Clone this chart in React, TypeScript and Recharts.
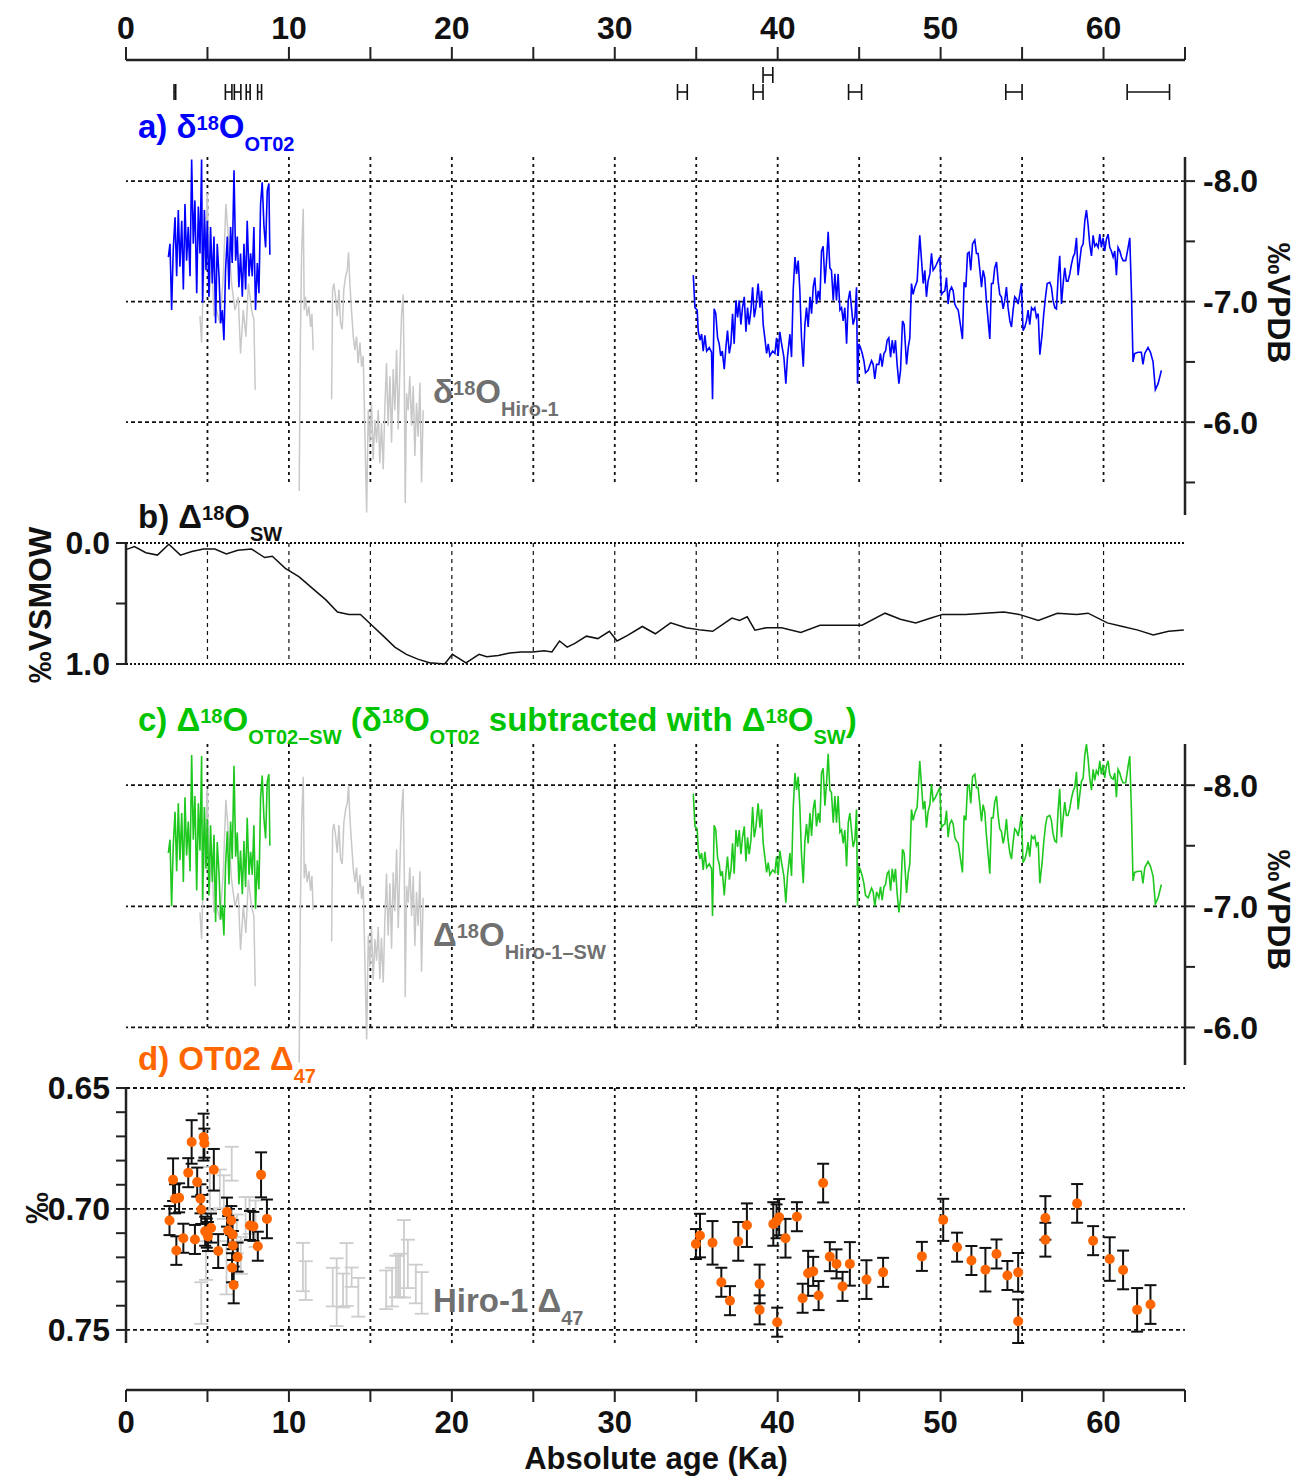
import React from 'react';
import { ComposedChart, Line, Scatter, XAxis, YAxis, ReferenceLine, ErrorBar } from 'recharts';

const FONT = '"Liberation Sans", Arial, Helvetica, sans-serif';
const BLUE = '#0000ff';
const GREEN = '#1fc81f';
const GREEN_TXT = '#00c400';
const ORANGE = '#ff6600';
const GRAY_LINE = '#c8c8c8';
const GRAY_TXT = '#707070';
const INK = '#111111';

// ---------- shared x axis ----------
const ageTicks = [0, 5, 10, 15, 20, 25, 30, 35, 40, 45, 50, 55, 60, 65];
const gridAges = [5, 10, 15, 20, 25, 30, 35, 40, 45, 50, 55, 60];

// ---------- dating uncertainties (top) ----------
const datingAge = [3.0, 6.3, 6.85, 7.5, 8.2, 34.15, 38.8, 39.4, 44.75, 54.5, 62.75];
const datingErr = [0.05, 0.2, 0.2, 0.12, 0.12, 0.3, 0.3, 0.3, 0.4, 0.5, 1.3];
const datingRow = [2, 2, 2, 2, 2, 2, 2, 1, 2, 2, 2];

// ---------- panel a / c : OT02 early ----------
const ot02EarlyAge = [2.60, 2.70, 2.80, 2.90, 3.01, 3.11, 3.21, 3.31, 3.42, 3.52, 3.62, 3.72, 3.82, 3.93, 4.03, 4.13, 4.23, 4.34, 4.44, 4.54, 4.64, 4.70, 4.81, 4.91, 4.99, 5.09, 5.19, 5.30, 5.40, 5.50, 5.60, 5.71, 5.81, 5.91, 6.01, 6.11, 6.22, 6.32, 6.42, 6.52, 6.63, 6.73, 6.83, 6.93, 7.03, 7.14, 7.24, 7.34, 7.44, 7.55, 7.65, 7.75, 7.85, 7.95, 8.06, 8.16, 8.26, 8.36, 8.47, 8.57, 8.67, 8.77, 8.83];
const ot02EarlyD18O = [-7.37, -7.48, -6.93, -7.43, -7.70, -7.21, -7.76, -7.29, -7.67, -7.10, -7.81, -7.34, -7.62, -7.21, -8.18, -7.48, -7.84, -7.07, -7.79, -7.40, -8.18, -6.99, -7.76, -7.26, -7.67, -7.04, -7.62, -7.15, -7.54, -6.82, -7.48, -7.21, -6.82, -6.93, -6.68, -7.26, -7.54, -7.10, -7.62, -7.32, -8.09, -7.34, -7.54, -7.12, -7.40, -7.04, -7.48, -7.10, -7.67, -7.21, -7.40, -7.21, -7.62, -6.93, -7.32, -7.07, -7.81, -7.99, -7.62, -7.45, -7.92, -7.98, -7.39];
const ot02EarlySW = [-7.44, -7.55, -7.00, -7.50, -7.78, -7.29, -7.85, -7.38, -7.77, -7.20, -7.90, -7.42, -7.70, -7.29, -8.25, -7.55, -7.91, -7.13, -7.85, -7.46, -8.24, -7.05, -7.82, -7.31, -7.72, -7.09, -7.67, -7.20, -7.59, -6.87, -7.53, -7.27, -6.89, -7.01, -6.76, -7.34, -7.62, -7.18, -7.70, -7.39, -8.16, -7.41, -7.61, -7.18, -7.46, -7.10, -7.54, -7.16, -7.73, -7.26, -7.45, -7.26, -7.67, -6.98, -7.38, -7.14, -7.89, -8.08, -7.72, -7.56, -8.03, -8.09, -7.50];

// ---------- panel a / c : OT02 late ----------
const ot02LateAge = [34.82, 34.92, 35.06, 35.12, 35.23, 35.33, 35.43, 35.53, 35.64, 35.8, 35.94, 36.0, 36.1, 36.2, 36.31, 36.41, 36.5, 36.6, 36.72, 36.82, 36.92, 37.03, 37.13, 37.23, 37.33, 37.44, 37.54, 37.64, 37.74, 37.84, 37.95, 38.05, 38.15, 38.25, 38.36, 38.46, 38.56, 38.66, 38.8, 38.91, 39.01, 39.11, 39.21, 39.32, 39.42, 39.52, 39.69, 39.83, 39.93, 40.03, 40.13, 40.24, 40.38, 40.5, 40.6, 40.75, 40.85, 40.95, 41.06, 41.16, 41.26, 41.36, 41.46, 41.57, 41.67, 41.77, 41.87, 41.98, 42.08, 42.18, 42.28, 42.38, 42.49, 42.59, 42.69, 42.79, 42.9, 43.0, 43.1, 43.2, 43.3, 43.41, 43.51, 43.61, 43.71, 43.82, 43.92, 44.02, 44.12, 44.23, 44.33, 44.43, 44.53, 44.63, 44.74, 44.84, 44.9, 44.98, 45.08, 45.19, 45.29, 45.39, 45.55, 45.76, 45.86, 45.96, 46.07, 46.21, 46.31, 46.41, 46.52, 46.62, 46.72, 46.82, 46.93, 47.03, 47.13, 47.23, 47.33, 47.44, 47.54, 47.66, 47.76, 47.91, 48.01, 48.11, 48.21, 48.31, 48.42, 48.56, 48.72, 48.83, 48.93, 49.03, 49.13, 49.23, 49.34, 49.44, 49.54, 49.64, 49.75, 49.85, 49.95, 50.05, 50.16, 50.26, 50.36, 50.46, 50.56, 50.67, 50.77, 50.87, 50.97, 51.08, 51.18, 51.34, 51.44, 51.55, 51.65, 51.75, 51.85, 51.96, 52.1, 52.2, 52.3, 52.41, 52.51, 52.61, 52.71, 52.81, 52.92, 53.02, 53.12, 53.22, 53.32, 53.43, 53.53, 53.63, 53.73, 53.84, 53.94, 54.04, 54.14, 54.25, 54.35, 54.45, 54.55, 54.66, 54.76, 54.86, 54.96, 55.06, 55.17, 55.27, 55.37, 55.47, 55.58, 55.68, 55.78, 55.88, 55.99, 56.09, 56.23, 56.33, 56.44, 56.54, 56.7, 56.8, 56.9, 57.01, 57.11, 57.21, 57.31, 57.42, 57.52, 57.62, 57.72, 57.82, 57.93, 58.03, 58.13, 58.23, 58.34, 58.44, 58.54, 58.64, 58.75, 58.85, 58.95, 59.05, 59.15, 59.26, 59.36, 59.46, 59.56, 59.67, 59.77, 59.87, 59.97, 60.07, 60.18, 60.28, 60.38, 60.48, 60.59, 60.69, 60.79, 60.89, 61.0, 61.1, 61.2, 61.36, 61.51, 61.61, 61.71, 61.81, 61.91, 62.12, 62.32, 62.42, 62.53, 62.73, 62.88, 63.04, 63.18, 63.35, 63.55];
const ot02LateD18O = [-7.22, -6.95, -6.93, -6.76, -6.68, -6.73, -6.59, -6.72, -6.59, -6.62, -6.58, -6.19, -6.94, -6.9, -6.70, -6.65, -6.55, -6.59, -6.44, -6.62, -6.76, -6.57, -6.65, -6.9, -6.65, -7.01, -6.87, -7.01, -6.81, -6.95, -7.04, -6.75, -6.95, -6.81, -6.93, -7.12, -6.87, -6.95, -7.15, -6.95, -7.09, -6.81, -6.70, -6.57, -6.65, -6.55, -6.59, -6.57, -6.70, -6.55, -6.75, -6.65, -6.54, -6.32, -6.54, -6.73, -6.54, -7.09, -7.37, -7.23, -7.34, -7.09, -6.70, -6.46, -6.81, -6.95, -6.79, -7.04, -6.9, -7.12, -7.2, -6.98, -7.09, -7.01, -7.42, -7.46, -7.15, -7.34, -7.58, -7.28, -7.26, -7.01, -7.23, -7.01, -7.23, -6.93, -6.95, -6.84, -6.95, -6.65, -7.01, -7.09, -6.95, -6.81, -6.87, -7.12, -6.32, -6.65, -6.62, -6.57, -6.51, -6.41, -6.43, -6.51, -6.48, -6.36, -6.48, -6.48, -6.57, -6.46, -6.57, -6.59, -6.68, -6.70, -6.54, -6.68, -6.57, -6.68, -6.48, -6.32, -6.43, -6.84, -6.81, -6.48, -6.62, -6.70, -7.15, -7.06, -7.12, -7.17, -7.55, -7.34, -7.15, -7.26, -7.04, -7.17, -7.23, -7.40, -7.26, -7.28, -7.31, -7.34, -7.37, -7.06, -7.08, -7.09, -7.2, -6.98, -7.09, -7.12, -7.09, -6.98, -6.95, -6.93, -6.84, -6.69, -7.16, -7.12, -7.40, -7.41, -7.26, -7.48, -7.51, -7.40, -7.40, -7.26, -7.12, -7.26, -7.2, -7.01, -6.84, -6.69, -7.15, -7.15, -7.28, -7.33, -7.17, -7.06, -7.04, -6.94, -7.01, -7.12, -6.95, -6.84, -6.79, -6.93, -7.04, -7.02, -6.98, -7.06, -7.15, -6.76, -6.79, -6.84, -6.93, -6.81, -6.95, -6.93, -6.95, -6.87, -6.90, -6.56, -6.73, -6.90, -7.04, -7.15, -7.16, -7.12, -7.01, -6.95, -6.94, -7.2, -7.38, -6.98, -7.15, -7.28, -7.17, -7.17, -7.23, -7.31, -7.37, -7.40, -7.53, -7.22, -7.34, -7.45, -7.48, -7.67, -7.76, -7.64, -7.48, -7.38, -7.55, -7.46, -7.48, -7.45, -7.56, -7.45, -7.53, -7.42, -7.52, -7.56, -7.45, -7.42, -7.37, -7.42, -7.22, -7.45, -7.42, -7.37, -7.34, -7.34, -7.45, -7.53, -7.09, -6.50, -6.57, -6.58, -6.58, -6.48, -6.57, -6.62, -6.58, -6.50, -6.27, -6.32, -6.43];
const ot02LateSW = [-7.93, -7.66, -7.64, -7.47, -7.39, -7.44, -7.30, -7.45, -7.32, -7.35, -7.31, -6.92, -7.67, -7.63, -7.40, -7.35, -7.25, -7.29, -7.09, -7.27, -7.41, -7.22, -7.30, -7.52, -7.27, -7.63, -7.49, -7.63, -7.43, -7.57, -7.66, -7.37, -7.57, -7.43, -7.55, -7.82, -7.57, -7.65, -7.85, -7.65, -7.80, -7.52, -7.41, -7.28, -7.36, -7.26, -7.30, -7.28, -7.41, -7.26, -7.46, -7.36, -7.25, -7.03, -7.25, -7.44, -7.25, -7.80, -8.10, -7.96, -8.07, -7.82, -7.43, -7.19, -7.54, -7.68, -7.52, -7.77, -7.58, -7.80, -7.88, -7.66, -7.77, -7.69, -8.10, -8.14, -7.83, -8.02, -8.26, -7.96, -7.94, -7.69, -7.91, -7.69, -7.91, -7.61, -7.63, -7.52, -7.63, -7.33, -7.69, -7.77, -7.63, -7.49, -7.55, -7.80, -7.00, -7.33, -7.30, -7.25, -7.19, -7.09, -7.07, -7.15, -7.12, -7.00, -7.12, -7.07, -7.16, -7.05, -7.16, -7.18, -7.27, -7.29, -7.13, -7.31, -7.20, -7.31, -7.11, -6.95, -7.06, -7.47, -7.44, -7.11, -7.27, -7.35, -7.80, -7.71, -7.77, -7.82, -8.20, -7.99, -7.80, -7.87, -7.65, -7.78, -7.84, -8.01, -7.87, -7.89, -7.92, -7.95, -7.98, -7.65, -7.67, -7.68, -7.79, -7.57, -7.68, -7.71, -7.68, -7.57, -7.54, -7.52, -7.43, -7.28, -7.75, -7.71, -7.99, -8.00, -7.85, -8.07, -8.09, -7.98, -7.98, -7.84, -7.70, -7.84, -7.78, -7.59, -7.42, -7.27, -7.73, -7.73, -7.86, -7.91, -7.75, -7.64, -7.62, -7.52, -7.59, -7.72, -7.55, -7.44, -7.39, -7.53, -7.64, -7.62, -7.58, -7.66, -7.75, -7.36, -7.39, -7.44, -7.53, -7.41, -7.58, -7.56, -7.58, -7.50, -7.53, -7.19, -7.36, -7.53, -7.67, -7.74, -7.75, -7.71, -7.60, -7.54, -7.53, -7.79, -7.97, -7.57, -7.73, -7.86, -7.75, -7.75, -7.81, -7.89, -7.95, -7.98, -8.11, -7.80, -7.92, -8.03, -8.06, -8.25, -8.34, -8.22, -8.06, -7.96, -8.13, -8.04, -8.12, -8.09, -8.20, -8.09, -8.17, -8.06, -8.16, -8.20, -8.09, -8.06, -8.05, -8.10, -7.90, -8.13, -8.10, -8.05, -8.02, -8.02, -8.16, -8.24, -7.80, -7.21, -7.28, -7.29, -7.29, -7.19, -7.32, -7.37, -7.33, -7.25, -7.02, -7.07, -7.18];

// ---------- Hiro-1 (gray) segments ----------
const hiro1Age = [4.54, 4.64, 4.74, 4.85, 4.99, 5.11, 5.26, 5.40, 5.56, 5.77, 5.97, 6.13, 6.28, 6.48, 6.69, 6.89, 7.03, 7.20, 7.36, 7.51, 7.71, 7.85, 7.93];
const hiro1D18O = [-6.88, -6.66, -7.15, -7.40, -7.90, -7.04, -7.34, -6.88, -6.93, -6.82, -7.21, -7.81, -7.54, -7.15, -6.93, -7.04, -6.57, -6.93, -6.71, -7.15, -6.93, -6.85, -6.27];
const hiro1SW = [-6.95, -6.73, -7.22, -7.47, -7.97, -7.11, -7.41, -6.95, -7.00, -6.89, -7.28, -7.88, -7.61, -7.22, -7.00, -7.11, -6.64, -7.00, -6.78, -7.22, -7.00, -6.92, -6.34];
const hiro2Age = [10.63, 10.70, 10.78, 10.88, 10.94, 11.02, 11.12, 11.23, 11.33, 11.41, 11.49];
const hiro2D18O = [-5.43, -6.66, -7.40, -7.77, -6.93, -7.04, -6.88, -6.96, -6.79, -6.90, -6.60];
const hiro2SW = [-5.71, -6.94, -7.69, -8.07, -7.23, -7.35, -7.20, -7.29, -7.13, -7.25, -6.97];
const hiro3Age = [12.62, 12.68, 12.76, 12.86, 12.97, 13.07, 13.17, 13.27, 13.37, 13.48, 13.58, 13.66, 13.74, 13.84, 13.95, 14.05, 14.15, 14.25, 14.36, 14.46, 14.56, 14.77, 14.87, 14.97, 15.07, 15.17, 15.28, 15.38, 15.48, 15.58, 15.68, 15.79, 15.89, 15.99, 16.09, 16.20, 16.30, 16.40, 16.50, 16.61, 16.71, 16.81, 16.91, 17.01, 17.08, 17.14, 17.22, 17.32, 17.42, 17.53, 17.63, 17.73, 17.83, 17.93, 18.04, 18.14, 18.24];
const hiro3D18O = [-6.19, -7.10, -7.15, -7.04, -6.88, -7.10, -6.82, -6.77, -7.10, -7.21, -7.26, -7.41, -7.15, -6.93, -6.71, -6.60, -6.71, -6.49, -6.66, -6.46, -6.55, -5.25, -6.10, -5.83, -6.16, -5.69, -6.02, -5.83, -6.10, -5.66, -5.99, -5.61, -6.13, -6.49, -5.97, -6.38, -5.83, -6.44, -6.10, -6.60, -5.94, -6.44, -6.88, -7.06, -6.38, -5.33, -6.24, -6.10, -6.38, -5.97, -6.30, -5.72, -6.16, -5.88, -6.33, -5.50, -6.10];
const hiro3SW = [-6.71, -7.62, -7.68, -7.59, -7.44, -7.67, -7.39, -7.35, -7.69, -7.80, -7.85, -8.00, -7.74, -7.53, -7.31, -7.20, -7.32, -7.10, -7.26, -7.06, -7.17, -5.90, -6.76, -6.50, -6.84, -6.39, -6.73, -6.55, -6.83, -6.40, -6.74, -6.37, -6.90, -7.27, -6.76, -7.19, -6.65, -7.28, -6.96, -7.47, -6.82, -7.33, -7.78, -7.97, -7.30, -6.25, -7.17, -7.03, -7.32, -6.92, -7.25, -6.67, -7.12, -6.84, -7.29, -6.46, -7.07];

// ---------- panel b : seawater ----------
const swAge = [0, 0.52, 1.22, 1.93, 2.63, 3.34, 4.04, 4.75, 5.45, 6.16, 6.86, 7.71, 8.51, 8.98, 9.78, 10.63, 11.57, 12.27, 12.98, 13.68, 14.39, 15.09, 15.80, 16.50, 17.21, 17.91, 18.62, 19.56, 20.03, 20.87, 21.67, 22.14, 22.85, 23.55, 24.26, 24.96, 25.67, 26.14, 26.61, 27.08, 27.55, 28.26, 28.96, 29.67, 30.14, 30.84, 31.69, 32.49, 33.43, 34.37, 35.31, 36.01, 37.19, 37.66, 38.13, 38.60, 39.30, 40.24, 41.42, 42.60, 44.01, 45.18, 46.59, 47.53, 48.47, 49.41, 50.12, 51.53, 52.70, 53.88, 54.82, 56.00, 57.17, 58.35, 59.05, 60.23, 61.17, 62.11, 63.05, 63.99, 64.93];
const swValue = [0.055, 0.03, 0.08, 0.10, 0.01, 0.10, 0.07, 0.05, 0.05, 0.09, 0.06, 0.05, 0.12, 0.11, 0.21, 0.28, 0.39, 0.47, 0.57, 0.59, 0.59, 0.68, 0.77, 0.86, 0.92, 0.96, 0.99, 1.0, 0.92, 0.99, 0.92, 0.94, 0.93, 0.91, 0.90, 0.90, 0.89, 0.90, 0.81, 0.86, 0.83, 0.77, 0.79, 0.73, 0.81, 0.76, 0.69, 0.75, 0.66, 0.70, 0.72, 0.73, 0.62, 0.64, 0.61, 0.72, 0.70, 0.70, 0.74, 0.68, 0.68, 0.68, 0.58, 0.63, 0.66, 0.62, 0.59, 0.59, 0.58, 0.57, 0.59, 0.64, 0.58, 0.59, 0.58, 0.66, 0.69, 0.72, 0.76, 0.73, 0.72];

// ---------- panel d : clumped isotopes ----------
const ot02D47Age = [2.67, 2.89, 3.01, 3.09, 3.26, 3.52, 3.82, 4.03, 4.23, 4.37, 4.57, 4.62, 4.76, 4.81, 4.86, 4.96, 5.03, 5.22, 5.39, 5.66, 6.20, 6.27, 6.46, 6.54, 6.56, 6.51, 6.61, 6.85, 7.61, 7.82, 8.09, 8.29, 8.65, 34.98, 35.23, 36.0, 36.54, 37.07, 37.58, 38.11, 38.89, 38.89, 39.73, 39.93, 39.97, 40.09, 40.48, 41.18, 41.53, 41.87, 42.18, 42.51, 42.79, 43.2, 43.61, 43.98, 44.43, 45.45, 46.47, 48.85, 50.16, 51.01, 51.89, 52.75, 53.43, 54.1, 54.76, 54.76, 56.43, 56.43, 58.38, 59.36, 60.38, 61.2, 62.06, 62.88];
const ot02D47 = [0.7048, 0.6879, 0.6958, 0.7172, 0.6954, 0.7121, 0.6850, 0.6723, 0.7126, 0.6889, 0.6958, 0.7002, 0.6703, 0.6728, 0.7092, 0.7100, 0.7114, 0.7079, 0.6838, 0.7174, 0.7013, 0.7089, 0.7048, 0.7106, 0.7151, 0.7243, 0.7314, 0.7199, 0.7068, 0.7072, 0.7154, 0.6859, 0.7041, 0.7145, 0.7110, 0.7140, 0.7303, 0.7379, 0.7134, 0.7067, 0.7310, 0.7417, 0.7062, 0.7051, 0.7468, 0.7034, 0.7121, 0.7032, 0.7369, 0.7266, 0.7258, 0.7358, 0.6893, 0.7197, 0.7227, 0.7320, 0.7227, 0.7292, 0.7262, 0.7196, 0.7045, 0.7158, 0.7213, 0.7251, 0.7186, 0.7275, 0.7262, 0.7464, 0.7037, 0.7127, 0.6977, 0.7131, 0.7207, 0.7252, 0.7417, 0.7395];
const ot02D47Err = [0.006, 0.0088, 0.006, 0.0059, 0.006, 0.006, 0.006, 0.009, 0.006, 0.006, 0.006, 0.006, 0.0097, 0.006, 0.006, 0.006, 0.006, 0.006, 0.0086, 0.007, 0.006, 0.006, 0.006, 0.006, 0.006, 0.006, 0.0076, 0.006, 0.006, 0.006, 0.006, 0.0093, 0.008, 0.0062, 0.009, 0.009, 0.006, 0.006, 0.008, 0.009, 0.008, 0.006, 0.009, 0.007, 0.006, 0.0075, 0.008, 0.006, 0.006, 0.0093, 0.006, 0.006, 0.008, 0.006, 0.006, 0.006, 0.009, 0.008, 0.006, 0.006, 0.0087, 0.006, 0.006, 0.009, 0.006, 0.006, 0.008, 0.009, 0.009, 0.007, 0.008, 0.006, 0.009, 0.008, 0.009, 0.008];
const hiroD47Age = [4.62, 4.91, 5.15, 5.76, 6.00, 6.17, 6.49, 6.80, 7.05, 7.34, 7.58, 7.95, 10.86, 11.03, 12.69, 12.93, 13.32, 13.54, 13.85, 14.26, 15.97, 16.33, 16.57, 16.70, 16.82, 17.06, 17.30, 17.79, 18.15];
const hiroD47 = [0.7389, 0.7213, 0.6917, 0.6917, 0.6951, 0.7243, 0.6813, 0.7103, 0.7192, 0.7041, 0.7027, 0.7061, 0.724, 0.7296, 0.7323, 0.7344, 0.7337, 0.7271, 0.7282, 0.7365, 0.7334, 0.7323, 0.7279, 0.7279, 0.7275, 0.7206, 0.7227, 0.731, 0.7347];
const hiroD47Err = [0.0086, 0.008, 0.009, 0.008, 0.009, 0.011, 0.007, 0.008, 0.0076, 0.009, 0.0076, 0.0096, 0.010, 0.008, 0.008, 0.014, 0.007, 0.013, 0.004, 0.008, 0.008, 0.008, 0.0086, 0.0086, 0.009, 0.016, 0.010, 0.008, 0.0086];

// ---------- axis ticks ----------
const vpdbTicksA = [-8, -7.5, -7, -6.5, -6, -5.5];
const vpdbTicksC = [-8, -7.5, -7, -6.5, -6];
const vpdbGrid = [-8, -7, -6];
const swTicks = [0, 0.5, 1];
const swGrid = [0, 1];
const d47Ticks = [0.65, 0.66, 0.67, 0.68, 0.69, 0.70, 0.71, 0.72, 0.73, 0.74, 0.75];
const d47Labeled = [0.65, 0.70, 0.75];

// ---------- helpers ----------
type Pt = { x: number; y: number };
const zip = (xs: number[], ys: number[]): Pt[] => xs.map((x, i) => ({ x, y: ys[i] }));

const W = 1302;
const PL = 126;
const PR = 1185;
const tickStyle = { fill: INK, fontSize: 32, fontWeight: 700, fontFamily: FONT };
const axisLineStyle = { stroke: '#222', strokeWidth: 2.5 };
const tickLineStyle = { stroke: '#222', strokeWidth: 2 };

const fmtVpdb = (v: number) => (Number.isInteger(v) ? v.toFixed(1) : '');
const fmtSw = (v: number) => (Math.abs(v - 0.5) < 1e-6 ? '' : v.toFixed(1));
const fmtD47 = (v: number) => (d47Labeled.some((l) => Math.abs(l - v) < 1e-6) ? v.toFixed(2) : '');
const fmtAge = (v: number) => (v % 10 === 0 && v <= 60 ? String(v) : '');

const hGridLines = (vals: number[], dash: string, width: number) =>
  vals.map((v) => (
    <ReferenceLine key={'h' + v} y={v} stroke={INK} strokeWidth={width} strokeDasharray={dash} ifOverflow="visible" />
  ));
const vGridLines = (from: number, to: number, dash: string, width: number) =>
  gridAges.map((a) => (
    <ReferenceLine
      key={'v' + a}
      segment={[{ x: a, y: from }, { x: a, y: to }]}
      stroke={INK}
      strokeWidth={width}
      strokeDasharray={dash}
      ifOverflow="visible"
    />
  ));

const line = (key: string, data: Pt[], color: string, width = 1.6) => (
  <Line
    key={key}
    data={data}
    dataKey="y"
    type="linear"
    stroke={color}
    strokeWidth={width}
    dot={false}
    activeDot={false}
    isAnimationActive={false}
  />
);

const PAD = 20;

function panelBox(top: number, bottom: number) {
  return { position: 'absolute' as const, left: 0, top: top - PAD, width: W, height: bottom - top + 2 * PAD };
}

const EmptyShape = () => <g />;
const OrangeDot = (p: any) => <circle cx={p.cx} cy={p.cy} r={5} fill={ORANGE} />;

const TS = 33; // title font size
const SS = 20; // sub/superscript size

export default function App() {
  const aTop = 157, aBot = 515;
  const bTop = 543, bBot = 664;
  const cTop = 744, cBot = 1065;
  const dTop = 1088, dBot = 1343;

  const datingData = datingAge.map((a, i) => ({ x: a, y: datingRow[i] === 1 ? 15 : 32, ex: datingErr[i] }));
  const ot02Pts = ot02D47Age.map((a, i) => ({ x: a, y: ot02D47[i], err: ot02D47Err[i] }));
  const hiroPts = hiroD47Age.map((a, i) => ({ x: a, y: hiroD47[i], err: hiroD47Err[i] }));

  return (
    <div style={{ position: 'absolute', left: 0, top: 0, width: W, height: 1476, background: '#fff', fontFamily: FONT }}>
      {/* top axis + dating error bars */}
      <div style={{ position: 'absolute', left: 0, top: 0, width: W, height: 100 }}>
        <ComposedChart width={W} height={100} margin={{ top: 0, bottom: 0, left: PL, right: W - PR }}>
          <XAxis
            type="number"
            dataKey="x"
            domain={[0, 65]}
            orientation="top"
            height={60}
            ticks={ageTicks}
            interval={0}
            tickFormatter={fmtAge}
            tick={tickStyle}
            tickSize={13}
            tickMargin={8}
            axisLine={axisLineStyle}
            tickLine={tickLineStyle}
          />
          <YAxis type="number" dataKey="y" domain={[0, 40]} reversed hide />
          <Scatter data={datingData} shape={EmptyShape} isAnimationActive={false}>
            <ErrorBar dataKey="ex" direction="x" width={8} stroke={INK} strokeWidth={1.6} />
          </Scatter>
        </ComposedChart>
      </div>

      {/* panel a */}
      <div style={panelBox(aTop, aBot)}>
        <ComposedChart width={W} height={aBot - aTop + 2 * PAD} margin={{ top: PAD, bottom: PAD, left: PL, right: 0 }}>
          <XAxis type="number" dataKey="x" domain={[0, 65]} hide />
          <YAxis
            type="number"
            dataKey="y"
            orientation="right"
            width={W - PR}
            domain={[-8.2, -5.23]}
            reversed
            ticks={vpdbTicksA}
            interval={0}
            tickFormatter={fmtVpdb}
            tick={tickStyle}
            tickSize={10}
            tickMargin={8}
            axisLine={axisLineStyle}
            tickLine={tickLineStyle}
          />
          {hGridLines(vpdbGrid, '4 3', 1.8)}
          {vGridLines(-8.2, -5.5, '3 4', 1.8)}
          {line('h1', zip(hiro1Age, hiro1D18O), GRAY_LINE, 1.5)}
          {line('h2', zip(hiro2Age, hiro2D18O), GRAY_LINE, 1.5)}
          {line('h3', zip(hiro3Age, hiro3D18O), GRAY_LINE, 1.5)}
          {line('b1', zip(ot02EarlyAge, ot02EarlyD18O), BLUE)}
          {line('b2', zip(ot02LateAge, ot02LateD18O), BLUE)}
        </ComposedChart>
      </div>

      {/* panel b */}
      <div style={panelBox(bTop, bBot)}>
        <ComposedChart width={W} height={bBot - bTop + 2 * PAD} margin={{ top: PAD, bottom: PAD, left: 0, right: W - PR }}>
          <XAxis type="number" dataKey="x" domain={[0, 65]} hide />
          <YAxis
            type="number"
            dataKey="y"
            orientation="left"
            width={PL}
            domain={[0, 1]}
            reversed
            ticks={swTicks}
            interval={0}
            tickFormatter={fmtSw}
            tick={tickStyle}
            tickSize={10}
            tickMargin={6}
            axisLine={axisLineStyle}
            tickLine={tickLineStyle}
          />
          {hGridLines(swGrid, '2 2', 2)}
          {vGridLines(0, 1, '4 4', 1.2)}
          {line('sw', zip(swAge, swValue), INK, 1.5)}
        </ComposedChart>
      </div>

      {/* panel c */}
      <div style={panelBox(cTop, cBot)}>
        <ComposedChart width={W} height={cBot - cTop + 2 * PAD} margin={{ top: PAD, bottom: PAD, left: PL, right: 0 }}>
          <XAxis type="number" dataKey="x" domain={[0, 65]} hide />
          <YAxis
            type="number"
            dataKey="y"
            orientation="right"
            width={W - PR}
            domain={[-8.34, -5.69]}
            reversed
            ticks={vpdbTicksC}
            interval={0}
            tickFormatter={fmtVpdb}
            tick={tickStyle}
            tickSize={10}
            tickMargin={8}
            axisLine={axisLineStyle}
            tickLine={tickLineStyle}
          />
          {hGridLines(vpdbGrid, '4 3', 1.8)}
          {vGridLines(-8.34, -6.0, '3 4', 1.8)}
          {line('h1', zip(hiro1Age, hiro1SW), GRAY_LINE, 1.5)}
          {line('h2', zip(hiro2Age, hiro2SW), GRAY_LINE, 1.5)}
          {line('h3', zip(hiro3Age, hiro3SW), GRAY_LINE, 1.5)}
          {line('g1', zip(ot02EarlyAge, ot02EarlySW), GREEN)}
          {line('g2', zip(ot02LateAge, ot02LateSW), GREEN)}
        </ComposedChart>
      </div>

      {/* panel d */}
      <div style={panelBox(dTop, dBot)}>
        <ComposedChart width={W} height={dBot - dTop + 2 * PAD} margin={{ top: PAD, bottom: PAD, left: 0, right: W - PR }}>
          <XAxis type="number" dataKey="x" domain={[0, 65]} hide />
          <YAxis
            type="number"
            dataKey="y"
            orientation="left"
            width={PL}
            domain={[0.65, 0.7554]}
            reversed
            ticks={d47Ticks}
            interval={0}
            tickFormatter={fmtD47}
            tick={tickStyle}
            tickSize={10}
            tickMargin={6}
            axisLine={axisLineStyle}
            tickLine={tickLineStyle}
          />
          {hGridLines(d47Labeled, '4 3', 1.8)}
          {vGridLines(0.65, 0.7554, '3 4', 1.8)}
          <Scatter data={hiroPts} shape={EmptyShape} isAnimationActive={false}>
            <ErrorBar dataKey="err" direction="y" width={7} stroke="#cdcdcd" strokeWidth={1.8} />
          </Scatter>
          <Scatter data={ot02Pts} shape={OrangeDot} isAnimationActive={false}>
            <ErrorBar dataKey="err" direction="y" width={6} stroke={INK} strokeWidth={2} />
          </Scatter>
        </ComposedChart>
      </div>

      {/* bottom axis */}
      <div style={{ position: 'absolute', left: 0, top: 1370, width: W, height: 106 }}>
        <ComposedChart width={W} height={106} margin={{ top: 0, bottom: 0, left: PL, right: W - PR }}>
          <XAxis
            type="number"
            dataKey="x"
            domain={[0, 65]}
            orientation="bottom"
            height={86}
            ticks={ageTicks}
            interval={0}
            tickFormatter={fmtAge}
            tick={{ ...tickStyle, fontSize: 31 }}
            tickSize={12}
            tickMargin={9}
            axisLine={axisLineStyle}
            tickLine={tickLineStyle}
          />
          <YAxis type="number" dataKey="y" domain={[0, 40]} hide />
          <Scatter data={datingData} shape={EmptyShape} isAnimationActive={false} />
        </ComposedChart>
      </div>

      {/* text overlay */}
      <svg width={W} height={1476} style={{ position: 'absolute', left: 0, top: 0, pointerEvents: 'none' }}>
        <g fontFamily={FONT} fontWeight={700} style={{ whiteSpace: 'pre' }}>
          <text x={138} y={138} fill={BLUE} fontSize={TS}>
            a) δ<tspan dy={-8} fontSize={SS}>18</tspan><tspan dy={8}>O</tspan><tspan dy={13} fontSize={SS}>OT02</tspan>
          </text>
          <text x={138} y={528} fill={INK} fontSize={TS}>
            b) Δ<tspan dy={-8} fontSize={SS}>18</tspan><tspan dy={8}>O</tspan><tspan dy={13} fontSize={SS}>SW</tspan>
          </text>
          <text x={138} y={731} fill={GREEN_TXT} fontSize={TS}>
            c) Δ<tspan dy={-8} fontSize={SS}>18</tspan><tspan dy={8}>O</tspan><tspan dy={13} fontSize={SS}>OT02–SW</tspan>
            <tspan dy={-13}> (δ</tspan><tspan dy={-8} fontSize={SS}>18</tspan><tspan dy={8}>O</tspan><tspan dy={13} fontSize={SS}>OT02</tspan>
            <tspan dy={-13}> subtracted with Δ</tspan><tspan dy={-8} fontSize={SS}>18</tspan><tspan dy={8}>O</tspan><tspan dy={13} fontSize={SS}>SW</tspan>
            <tspan dy={-13}>)</tspan>
          </text>
          <text x={138} y={1070} fill={ORANGE} fontSize={TS}>
            d) OT02 Δ<tspan dy={13} fontSize={SS}>47</tspan>
          </text>
          <text x={433} y={403} fill={GRAY_TXT} fontSize={TS}>
            δ<tspan dy={-8} fontSize={SS}>18</tspan><tspan dy={8}>O</tspan><tspan dy={13} fontSize={SS}>Hiro-1</tspan>
          </text>
          <text x={433} y={946} fill={GRAY_TXT} fontSize={TS}>
            Δ<tspan dy={-8} fontSize={SS}>18</tspan><tspan dy={8}>O</tspan><tspan dy={13} fontSize={SS}>Hiro-1–SW</tspan>
          </text>
          <text x={433} y={1312} fill={GRAY_TXT} fontSize={TS}>
            Hiro-1 Δ<tspan dy={13} fontSize={SS}>47</tspan>
          </text>
          <text x={1279} y={303} fill={INK} fontSize={32} textAnchor="middle" dominantBaseline="central" transform="rotate(90 1279 303)">
            ‰VPDB
          </text>
          <text x={1279} y={910} fill={INK} fontSize={32} textAnchor="middle" dominantBaseline="central" transform="rotate(90 1279 910)">
            ‰VPDB
          </text>
          <text x={40} y={605} fill={INK} fontSize={32} textAnchor="middle" dominantBaseline="central" transform="rotate(-90 40 605)">
            ‰VSMOW
          </text>
          <text x={37} y={1208} fill={INK} fontSize={32} textAnchor="middle" dominantBaseline="central" transform="rotate(-90 37 1208)">
            ‰
          </text>
          <text x={656} y={1469} fill={INK} fontSize={31} textAnchor="middle">
            Absolute age (Ka)
          </text>
        </g>
      </svg>
    </div>
  );
}
